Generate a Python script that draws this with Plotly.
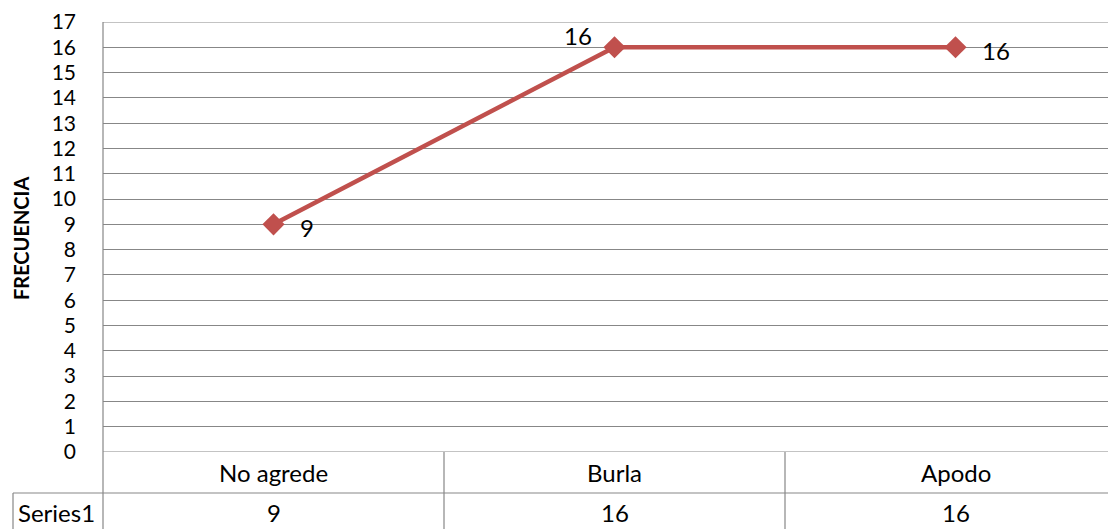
import plotly.graph_objects as go

categories = ['No agrede', 'Burla', 'Apodo']
values = [9, 16, 16]
series_name = 'Series1'
y_ticks = list(range(0, 18))

RED = '#C0504D'
GRID = '#878787'
FONT = 'Lato'
FS = 24

fig = go.Figure(
    data=[
        go.Scatter(x=[0, 1, 2],
                   y=values,
                   mode='lines+markers',
                   line=dict(color=RED, width=4.5),
                   marker=dict(symbol='diamond', size=17, color=RED),
                   name=series_name,
                   showlegend=False)
    ]
)

# data labels
label_pos = [(33, -3), (-37, 12), (40, -3)]
for i, v in enumerate(values):
    dx, dy = label_pos[i]
    fig.add_annotation(x=i, y=v, text=str(v), showarrow=False,
                       xshift=dx, yshift=dy, xanchor='center', yanchor='middle',
                       font=dict(family=FONT, size=FS, color='black'))

# helpers: page pixels -> paper coords (plot area 103..1116 x 22..452)
ppx = lambda px: (px - 103) / 1013.0
ppy = lambda py: (452 - py) / 430.0
line = dict(color=GRID, width=1.2)

# top / bottom gridlines at the range edges
for yv in [0, 17]:
    fig.add_shape(type='line', xref='paper', yref='y', x0=0, x1=1,
                  y0=yv, y1=yv, line=line)

# data table below the plot
fig.add_shape(type='line', xref='paper', yref='paper', x0=0, x1=0,
              y0=ppy(22), y1=ppy(535), line=line)
fig.add_shape(type='line', xref='paper', yref='paper', x0=ppx(13), x1=1,
              y0=ppy(493), y1=ppy(493), line=line)
fig.add_shape(type='line', xref='paper', yref='paper', x0=ppx(13), x1=ppx(13),
              y0=ppy(493), y1=ppy(535), line=line)
for xd in [0.5, 1.5]:
    fig.add_shape(type='line', xref='x', yref='paper', x0=xd, x1=xd,
                  y0=ppy(452), y1=ppy(535), line=line)

cell = dict(showarrow=False, xanchor='center', yanchor='middle',
            font=dict(family=FONT, size=FS, color='black'))
for i, c in enumerate(categories):
    fig.add_annotation(x=i, y=ppy(473), xref='x', yref='paper', text=c, **cell)
    fig.add_annotation(x=i, y=ppy(512), xref='x', yref='paper', text=str(values[i]), **cell)
fig.add_annotation(x=ppx(56), y=ppy(512), xref='paper', yref='paper', text=series_name, **cell)

# y title
fig.add_annotation(x=ppx(21), y=ppy(238), xref='paper', yref='paper', text='<b>FRECUENCIA</b>',
                   textangle=-90, showarrow=False, xanchor='center', yanchor='middle',
                   font=dict(family=FONT, size=20, color='black'))

# page body has an 8px margin, so the figure is shifted by 8px
fig.update_layout(
    width=1108, height=521,
    margin=dict(l=95, r=0, t=14, b=77),
    paper_bgcolor='white', plot_bgcolor='white',
    font=dict(family=FONT, size=FS, color='black'),
    xaxis=dict(range=[-0.5, 2.5 - 10 / 341.0], showgrid=False, showticklabels=False,
               zeroline=False, showline=False, fixedrange=True),
    yaxis=dict(range=[0, 17], tickvals=y_ticks, ticktext=[str(t) for t in y_ticks],
               showgrid=True, gridcolor=GRID, gridwidth=1.2, zeroline=False,
               showline=False, ticks='', ticklabelstandoff=26,
               ticklabeloverflow='allow',
               tickfont=dict(family=FONT, size=21, color='black'), fixedrange=True),
)

fig.write_html('out.html')
